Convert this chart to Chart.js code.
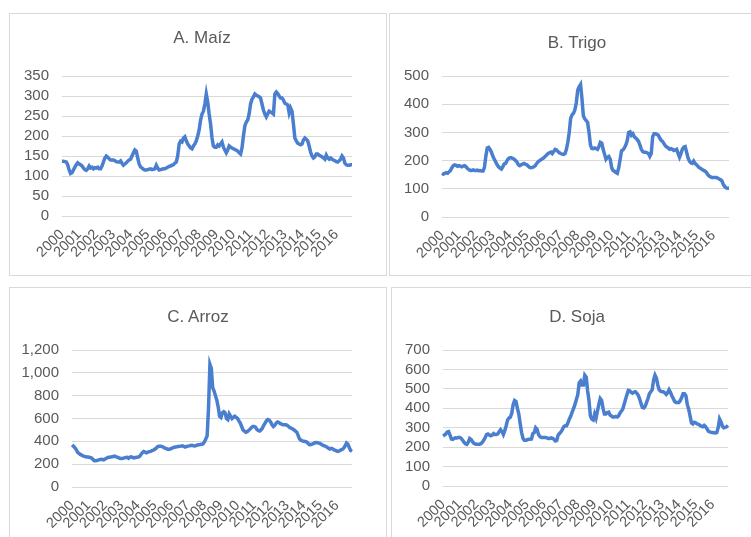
<!DOCTYPE html>
<html>
<head>
<meta charset="utf-8">
<script src="https://cdn.jsdelivr.net/npm/chart.js@4"></script>
<style>
body { margin: 0; background: #fff; width: 751px; height: 537px; overflow: hidden; position: relative; font-family: "Liberation Sans", Arial, sans-serif; }
.panel { position: absolute; border: 1px solid #d9d9d9; box-sizing: border-box; }
.panel canvas { position: absolute; left: 0; top: 0; }
.ttl { position: absolute; width: 200px; text-align: center; font-size: 17px; line-height: 20px; color: #595959; }
</style>
</head>
<body>
<div class="panel" style="left:9px;top:13px;width:378px;height:263px"><canvas id="cA" width="376" height="261"></canvas></div>
<div class="panel" style="left:389px;top:13px;width:364px;height:263px"><canvas id="cB" width="362" height="261"></canvas></div>
<div class="panel" style="left:9px;top:287px;width:378px;height:260px"><canvas id="cC" width="376" height="258"></canvas></div>
<div class="panel" style="left:391px;top:287px;width:362px;height:260px"><canvas id="cD" width="360" height="258"></canvas></div>
<div class="ttl" style="left:102px;top:28px">A. Maíz</div>
<div class="ttl" style="left:477px;top:33px">B. Trigo</div>
<div class="ttl" style="left:98px;top:307px">C. Arroz</div>
<div class="ttl" style="left:477px;top:307px">D. Soja</div>
<script>
// years shown on the x axis, one value per month
const years = ['2000','2001','2002','2003','2004','2005','2006','2007','2008',
  '2009','2010','2011','2012','2013','2014','2015','2016'];

const maiz = [
  137,137,136,135,128,115,106,108,115,122,128,133,
  130,128,125,120,116,114,118,125,120,122,118,121,
  120,122,118,118,125,135,145,150,147,143,140,140,
  140,138,136,135,135,138,132,127,130,133,137,140,
  142,150,158,165,162,145,130,123,120,117,115,115,
  116,117,118,116,117,118,127,120,115,116,117,118,
  118,120,122,124,125,127,128,132,135,150,180,187,
  185,195,198,188,180,175,170,168,175,180,188,200,
  215,240,255,262,280,305,285,255,230,195,175,172,
  172,178,175,180,185,172,165,158,165,175,172,170,
  168,166,165,162,158,155,170,200,225,235,240,255,
  280,292,298,305,302,300,298,295,280,265,255,248,
  255,262,260,258,255,305,310,306,300,295,295,290,
  282,280,278,258,270,262,230,195,188,182,180,178,
  180,190,195,192,188,175,160,150,145,148,155,155,
  152,150,148,145,142,152,145,142,145,142,140,138,
  136,135,138,142,150,145,132,128,127,127,128,128
];

const trigo = [
  155,152,155,157,155,160,165,175,182,185,183,180,
  182,180,178,180,182,178,172,168,165,165,167,165,
  165,166,164,165,163,163,175,215,245,247,240,230,
  215,205,195,185,178,173,170,178,188,190,200,207,
  210,210,208,205,200,195,185,182,185,188,190,187,
  185,180,176,175,176,178,182,190,196,200,203,207,
  210,215,220,225,228,230,225,232,240,238,232,228,
  225,223,222,225,240,265,300,350,362,368,380,405,
  450,462,470,420,358,348,342,335,300,255,243,242,
  245,243,240,250,265,262,240,222,205,212,215,205,
  175,165,162,158,155,175,205,235,238,245,255,270,
  300,302,290,295,285,280,275,268,255,240,232,230,
  230,228,225,215,225,285,295,295,293,290,280,272,
  268,260,252,248,245,240,242,240,236,238,240,225,
  212,225,240,248,250,230,210,198,192,190,198,190,
  185,180,175,172,168,165,163,158,150,145,142,140,
  140,140,140,138,135,132,128,115,108,103,102,102
];

const arroz = [
  368,358,345,330,305,295,285,280,272,268,265,262,
  262,258,255,245,232,230,232,236,240,242,240,238,
  245,252,258,260,262,265,268,270,265,260,255,250,
  250,252,255,258,260,252,262,265,258,255,258,260,
  262,268,285,300,310,305,300,305,310,312,318,322,
  330,340,352,358,358,356,350,342,338,333,330,333,
  337,342,348,350,352,355,356,358,360,355,350,355,
  358,360,363,365,362,360,363,368,370,372,375,378,
  395,420,450,700,1075,1040,870,840,800,760,700,620,
  610,650,660,650,600,590,640,620,600,610,620,610,
  600,580,560,530,500,490,480,485,495,505,520,530,
  530,525,505,495,490,500,515,540,560,580,590,585,
  570,545,530,540,560,570,565,555,550,545,545,545,
  540,530,520,515,508,500,490,480,450,420,410,405,
  400,398,395,385,372,370,375,380,388,390,388,385,
  380,372,365,360,355,348,340,332,338,335,325,320,
  315,312,318,325,330,340,360,385,375,345,320,312
];

const soja = [
  258,262,268,278,280,262,242,240,245,248,247,250,
  250,245,235,225,218,215,225,245,240,228,220,216,
  215,215,215,218,225,235,248,265,268,262,258,262,
  270,265,265,268,280,290,280,265,285,310,340,350,
  355,375,420,440,435,400,370,320,275,245,235,235,
  238,240,240,242,270,275,300,292,265,255,250,250,
  250,250,248,245,245,248,245,240,232,235,262,270,
  278,290,305,310,310,325,345,360,380,400,420,445,
  470,530,540,520,520,570,560,490,440,360,345,340,
  370,350,385,420,450,440,400,370,370,378,380,365,
  360,355,355,358,355,360,375,385,395,420,445,470,
  492,490,482,478,483,485,478,468,450,425,405,402,
  410,430,450,475,485,495,545,570,555,520,495,488,
  485,485,480,472,480,495,482,465,450,435,430,430,
  430,440,455,475,475,465,420,395,360,325,320,328,
  325,320,318,312,308,305,312,305,295,282,278,276,
  275,274,273,275,300,345,330,308,300,302,305,312
];

const months = [];
years.forEach(y => {
  for (let m = 1; m <= 12; m++) months.push(y + '-' + (m < 10 ? '0' + m : m));
});

const LINE = 'rgb(74,126,206)';
const TXT = '#595959';
const GRID = '#d9d9d9';
const FONT = '"Liberation Sans", Arial, sans-serif';

const makeChart = (id, values, maxY, step, lay) => {
  return new Chart(document.getElementById(id), {
    type: 'line',
    data: {
      labels: months,
      datasets: [{
        data: values,
        borderColor: LINE,
        borderWidth: 3.5,
        pointRadius: 0,
        tension: 0,
        fill: false
      }]
    },
    options: {
      responsive: false,
      animation: false,
      locale: 'en-US',
      layout: { padding: { left: 0, right: lay.right, top: lay.top, bottom: 0 } },
      plugins: { legend: { display: false }, tooltip: { enabled: false } },
      scales: {
        x: {
          grid: { display: false, drawTicks: false },
          border: { display: false },
          ticks: {
            autoSkip: false,
            minRotation: 45,
            maxRotation: 45,
            padding: 10,
            color: TXT,
            font: { size: 14.5, family: FONT },
            callback: (v, i) => (i % 12 === 0 ? months[i].slice(0, 4) : '')
          },
          afterFit: (s) => { s.height = lay.xh; }
        },
        y: {
          min: 0,
          max: maxY,
          grid: { color: GRID, drawTicks: false },
          border: { display: false },
          ticks: { stepSize: step, autoSkip: false, padding: 13, color: TXT, font: { size: 15, family: FONT } },
          afterFit: (s) => { s.width = lay.yw; }
        }
      }
    }
  });
};

makeChart('cA', maiz, 350, 50, { yw: 52, right: 34, top: 62, xh: 59 });
makeChart('cB', trigo, 500, 100, { yw: 52, right: 23, top: 62, xh: 58 });
makeChart('cC', arroz, 1200, 200, { yw: 62, right: 34, top: 62, xh: 59 });
makeChart('cD', soja, 700, 100, { yw: 51, right: 24, top: 62, xh: 60 });
</script>
</body>
</html>
